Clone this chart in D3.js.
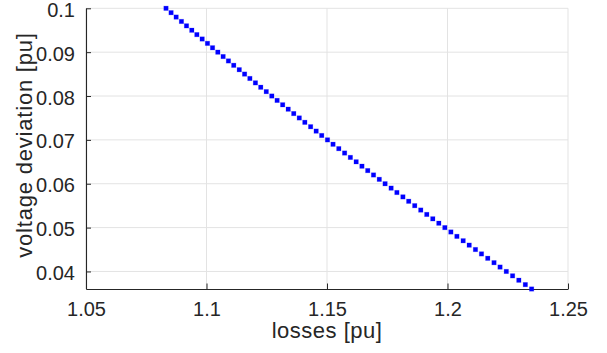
<!DOCTYPE html>
<html>
<head>
<meta charset="utf-8">
<script src="https://cdn.jsdelivr.net/npm/d3@7"></script>
<style>
  html, body { margin: 0; padding: 0; background: #fff; }
  svg { display: block; font-family: "Liberation Sans", Arial, Helvetica, sans-serif; }
</style>
</head>
<body>
<svg id="chart" width="607" height="353"></svg>
<script>
// Pareto front: network losses vs. voltage deviation (both in per unit)
const losses = [
  1.0832, 1.0853, 1.0874, 1.0896, 1.0917, 1.0939, 1.0960, 1.0982, 1.1004, 1.1025,
  1.1047, 1.1069, 1.1091, 1.1113, 1.1136, 1.1158, 1.1180, 1.1203, 1.1225, 1.1248,
  1.1271, 1.1293, 1.1316, 1.1339, 1.1362, 1.1385, 1.1408, 1.1432, 1.1455, 1.1478,
  1.1502, 1.1525, 1.1549, 1.1573, 1.1597, 1.1621, 1.1645, 1.1669, 1.1693, 1.1717,
  1.1741, 1.1766, 1.1790, 1.1815, 1.1839, 1.1864, 1.1889, 1.1914, 1.1939, 1.1964,
  1.1989, 1.2014, 1.2039, 1.2065, 1.2090, 1.2116, 1.2141, 1.2167, 1.2193, 1.2218,
  1.2244, 1.2270, 1.2296, 1.2323, 1.2349
];
const voltageDeviation = [
  0.100, 0.099, 0.098, 0.097, 0.096, 0.095, 0.094, 0.093, 0.092, 0.091,
  0.090, 0.089, 0.088, 0.087, 0.086, 0.085, 0.084, 0.083, 0.082, 0.081,
  0.080, 0.079, 0.078, 0.077, 0.076, 0.075, 0.074, 0.073, 0.072, 0.071,
  0.070, 0.069, 0.068, 0.067, 0.066, 0.065, 0.064, 0.063, 0.062, 0.061,
  0.060, 0.059, 0.058, 0.057, 0.056, 0.055, 0.054, 0.053, 0.052, 0.051,
  0.050, 0.049, 0.048, 0.047, 0.046, 0.045, 0.044, 0.043, 0.042, 0.041,
  0.040, 0.039, 0.038, 0.037, 0.036
];
const xDomain = [1.05, 1.25];
const yDomain = [0.036, 0.1];
const xTicks = [1.05, 1.1, 1.15, 1.2, 1.25];
const xTickLabels = ["1.05", "1.1", "1.15", "1.2", "1.25"];
const yTicks = [0.04, 0.05, 0.06, 0.07, 0.08, 0.09, 0.1];
const yTickLabels = ["0.04", "0.05", "0.06", "0.07", "0.08", "0.09", "0.1"];
const xLabel = "losses [pu]";
const yLabel = "voltage deviation [pu]";

const margin = { top: 8.3, right: 39, bottom: 64, left: 86 };
const W = 607, H = 353;
const svg = d3.select("#chart");

const x = d3.scaleLinear().domain(xDomain).range([margin.left, W - margin.right]);
const y = d3.scaleLinear().domain(yDomain).range([H - margin.bottom, margin.top]);

const axisColor = "#262626";
const gridColor = "#e3e3e3";

// grid
const grid = svg.append("g");
grid.selectAll("line.gx").data(xTicks).join("line")
  .attr("x1", d => x(d)).attr("x2", d => x(d))
  .attr("y1", y.range()[0]).attr("y2", y.range()[1])
  .attr("stroke", gridColor).attr("stroke-width", 1);
grid.selectAll("line.gy").data(yTicks).join("line")
  .attr("y1", d => y(d)).attr("y2", d => y(d))
  .attr("x1", x.range()[0]).attr("x2", x.range()[1])
  .attr("stroke", gridColor).attr("stroke-width", 1);

// axes with inward ticks
const xAxis = d3.axisBottom(x).tickValues(xTicks)
  .tickFormat((d, i) => xTickLabels[i]).tickSizeInner(-5.5).tickSizeOuter(0).tickPadding(13);
const yAxis = d3.axisLeft(y).tickValues(yTicks)
  .tickFormat((d, i) => yTickLabels[i]).tickSizeInner(-5).tickSizeOuter(0).tickPadding(11);

const gx = svg.append("g").attr("transform", `translate(0,${y.range()[0]})`).call(xAxis);
const gy = svg.append("g").attr("transform", `translate(${x.range()[0]},0)`).call(yAxis);
[gx, gy].forEach(g => {
  g.select(".domain").attr("stroke", axisColor).attr("stroke-width", 1.1);
  g.selectAll(".tick line").attr("stroke", axisColor).attr("stroke-width", 1);
  g.selectAll(".tick text").attr("fill", axisColor)
    .style("font-size", "20px").style("font-family", "Liberation Sans, Arial, sans-serif");
});
gx.selectAll(".tick text").attr("dy", "0.71em");
gy.selectAll(".tick text").attr("dy", "0.4em");

// markers
const s = 4.4;
svg.append("g").selectAll("rect").data(losses).join("rect")
  .attr("x", (d, i) => x(d) - s / 2)
  .attr("y", (d, i) => y(voltageDeviation[i]) - s / 2)
  .attr("width", s).attr("height", s)
  .attr("fill", "#0000ff")
  .attr("stroke", "rgba(0,0,255,0.25)").attr("stroke-width", 0.8);

// axis labels
svg.append("text")
  .attr("x", (x.range()[0] + x.range()[1]) / 2)
  .attr("y", 338)
  .attr("text-anchor", "middle")
  .attr("fill", axisColor)
  .style("font-size", "22px").style("letter-spacing", "0.5px")
  .text(xLabel);
svg.append("text")
  .attr("transform", `translate(32,145) rotate(-90)`)
  .attr("text-anchor", "middle")
  .attr("fill", axisColor)
  .style("font-size", "22px").style("letter-spacing", "0.8px")
  .text(yLabel);
</script>
</body>
</html>
